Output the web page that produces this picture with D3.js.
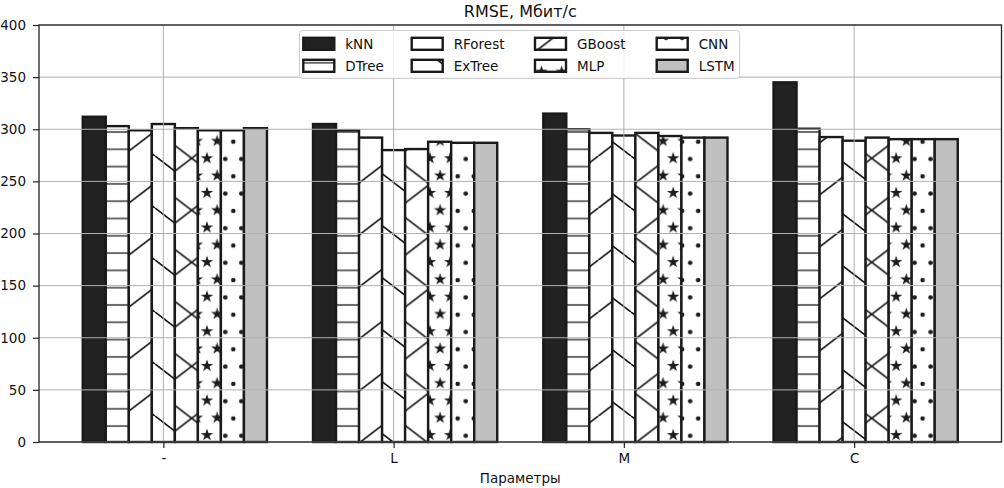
<!DOCTYPE html>
<html>
<head>
<meta charset="utf-8">
<script src="https://cdn.jsdelivr.net/npm/d3@7"></script>
<style>
    body { margin: 0; background: #fff; }
    svg text { font-family: "DejaVu Sans", sans-serif; fill: #111; }
</style>
</head>
<body>
<div id="graph"></div>
<script>
// categories on the x axis and the models in the legend
const CATEGORIES = ['-', 'L', 'M', 'C'];
const MODELS = ['kNN', 'DTree', 'RForest', 'ExTree', 'GBoost', 'MLP', 'CNN', 'LSTM'];

// RMSE values, one array per model, in CATEGORIES order
const KNN     = [312, 305, 315, 345];
const DTREE   = [303, 299, 300, 300.5];
const RFOREST = [299, 292, 296.5, 292.5];
const EXTREE  = [305, 280, 294, 289];
const GBOOST  = [301, 281, 296.5, 292];
const MLP     = [299, 288, 293.5, 290.5];
const CNN     = [299, 287, 292, 290.5];
const LSTM    = [301, 287, 292, 290.5];

const Y_TICKS = [0, 50, 100, 150, 200, 250, 300, 350, 400];

window.onload = (function(){

    function __init__(){
        /**
         * Builds the whole chart.
         */
        WIDTH = 1004;
        HEIGHT = 488;
        plot = {left: 39, right: 1001.5, top: 25, bottom: 442};
        series = [KNN, DTREE, RFOREST, EXTREE, GBOOST, MLP, CNN, LSTM];
        looks = [
            {fill: '#222222', hatch: null},
            {fill: '#ffffff', hatch: 'hlines'},
            {fill: '#ffffff', hatch: 'fwd'},
            {fill: '#ffffff', hatch: 'back'},
            {fill: '#ffffff', hatch: 'cross'},
            {fill: '#ffffff', hatch: 'stars'},
            {fill: '#ffffff', hatch: 'dots'},
            {fill: '#c0c0c0', hatch: null}
        ];
        svg = d3.select('#graph').append('svg')
            .attr('width', WIDTH)
            .attr('height', HEIGHT);
        x = d3.scaleLinear().domain([-0.54, 3.64]).range([plot.left, plot.right]);
        y = d3.scaleLinear().domain([0, 400]).range([plot.bottom, plot.top]);

        makePatterns();
        drawBars();
        drawGrid();
        drawAxes();
        drawLegend();
        drawTexts();
    }


    function makePatterns(){
        /**
         * Hatch patterns, anchored to the page like matplotlib hatches.
         */
        var defs = svg.append('defs');
        var ink = '#151515';
        var lw = 1.7;

        var p = defs.append('pattern').attr('id', 'hlines')
            .attr('patternUnits', 'userSpaceOnUse')
            .attr('x', 0).attr('y', 10.9 - 8.65).attr('width', 10).attr('height', 17.3);
        p.append('line').attr('x1', 0).attr('x2', 10).attr('y1', 8.65).attr('y2', 8.65)
            .attr('stroke', '#6a6a6a').attr('stroke-width', 2);

        var pw = 68, ph = 52;
        var fwd = defs.append('pattern').attr('id', 'fwd')
            .attr('patternUnits', 'userSpaceOnUse')
            .attr('x', 54.4).attr('y', 0).attr('width', pw).attr('height', ph);
        [0, 1, 2].forEach(function(k){
            fwd.append('line').attr('x1', k * pw).attr('y1', 0).attr('x2', (k - 1) * pw).attr('y2', ph)
                .attr('stroke', ink).attr('stroke-width', lw);
        });

        var back = defs.append('pattern').attr('id', 'back')
            .attr('patternUnits', 'userSpaceOnUse')
            .attr('x', 19).attr('y', 0).attr('width', pw).attr('height', ph);
        [-1, 0, 1].forEach(function(k){
            back.append('line').attr('x1', k * pw).attr('y1', 0).attr('x2', (k + 1) * pw).attr('y2', ph)
                .attr('stroke', ink).attr('stroke-width', lw);
        });

        var cross = defs.append('pattern').attr('id', 'cross')
            .attr('patternUnits', 'userSpaceOnUse')
            .attr('x', 55.7).attr('y', 2.3).attr('width', pw).attr('height', ph);
        [-1, 0, 1].forEach(function(k){
            cross.append('line').attr('x1', k * pw).attr('y1', 0).attr('x2', (k + 1) * pw).attr('y2', ph)
                .attr('stroke', ink).attr('stroke-width', lw);
        });
        [0, 1, 2].forEach(function(k){
            cross.append('line').attr('x1', k * pw).attr('y1', 0).attr('x2', (k - 1) * pw).attr('y2', ph)
                .attr('stroke', ink).attr('stroke-width', lw);
        });

        latticePattern(defs, 'stars', 20.27, 34.6, 4.3, 19.9, d3.symbol(d3.symbolStar, 48)());
        latticePattern(defs, 'dots', 16.03, 34.6, 8.88, 3.3, d3.symbol(d3.symbolCircle, 17)());
    }


    function latticePattern(defs, id, w, h, ox, oy, shape){
        /**
         * Staggered grid of small shapes (corners + centre of each tile).
         */
        var pat = defs.append('pattern').attr('id', id)
            .attr('patternUnits', 'userSpaceOnUse')
            .attr('x', ox).attr('y', oy).attr('width', w).attr('height', h);
        [[0, 0], [w, 0], [0, h], [w, h], [w / 2, h / 2]].forEach(function(c){
            pat.append('path').attr('d', shape)
                .attr('transform', 'translate(' + c[0] + ',' + c[1] + ')')
                .attr('fill', '#1c1c1c');
        });
    }


    function drawBars(){
        /**
         * One rect per model and category, hatch laid over the face colour.
         */
        var bw = x(0.1) - x(0);
        var g = svg.append('g').attr('class', 'bars');
        series.forEach(function(values, i){
            values.forEach(function(v, j){
                var left = x(j + (i - 3) * 0.1 - 0.05);
                var top = y(v);
                var h = y(0) - top;
                g.append('rect').attr('x', left).attr('y', top).attr('width', bw).attr('height', h)
                    .attr('fill', looks[i].fill);
                if (looks[i].hatch){
                    g.append('rect').attr('x', left).attr('y', top).attr('width', bw).attr('height', h)
                        .attr('fill', 'url(#' + looks[i].hatch + ')');
                }
                g.append('rect').attr('x', left).attr('y', top).attr('width', bw).attr('height', h)
                    .attr('fill', 'none').attr('stroke', '#1a1a1a').attr('stroke-width', 2.4);
            });
        });
    }


    function drawGrid(){
        /**
         * Light grid, drawn over the bars as in the picture.
         */
        var g = svg.append('g').attr('class', 'grid');
        g.selectAll('.hg').data(Y_TICKS).enter().append('line')
            .attr('x1', plot.left).attr('x2', plot.right)
            .attr('y1', function(d){ return y(d); }).attr('y2', function(d){ return y(d); })
            .attr('stroke', '#b0b0b0').attr('stroke-width', 1);
        g.selectAll('.vg').data(CATEGORIES).enter().append('line')
            .attr('x1', function(d, i){ return x(i); }).attr('x2', function(d, i){ return x(i); })
            .attr('y1', plot.top).attr('y2', plot.bottom)
            .attr('stroke', '#b0b0b0').attr('stroke-width', 1);
    }


    function drawAxes(){
        /**
         * Ticks and labels from d3 axes, plus the four spines.
         */
        var yAxis = d3.axisLeft(y).tickValues(Y_TICKS).tickSize(6).tickPadding(7);
        var ya = svg.append('g').attr('transform', 'translate(' + plot.left + ',0)').call(yAxis);
        var xAxis = d3.axisBottom(x).tickValues(d3.range(CATEGORIES.length))
            .tickFormat(function(d){ return CATEGORIES[d]; })
            .tickSize(6).tickPadding(5);
        var xa = svg.append('g').attr('transform', 'translate(0,' + plot.bottom + ')').call(xAxis);
        [ya, xa].forEach(function(a){
            a.select('.domain').remove();
            a.selectAll('line').attr('stroke', '#222').attr('stroke-width', 1.2);
            a.selectAll('text').attr('font-size', 13.5).attr('fill', '#111')
                .style('font-family', '"DejaVu Sans", sans-serif');
        });
        svg.append('rect')
            .attr('x', plot.left).attr('y', plot.top)
            .attr('width', plot.right - plot.left).attr('height', plot.bottom - plot.top)
            .attr('fill', 'none').attr('stroke', '#222').attr('stroke-width', 1.3);
    }


    function drawLegend(){
        /**
         * Four-column legend with the same hatches.
         */
        var lg = svg.append('g').attr('class', 'legend');
        lg.append('rect').attr('x', 299.5).attr('y', 30.5).attr('width', 440).attr('height', 48)
            .attr('rx', 3).attr('fill', '#fff').attr('fill-opacity', 0.85)
            .attr('stroke', '#cccccc').attr('stroke-width', 1);
        var cols = [303.3, 411.7, 535, 656.7];
        var rows = [43.8, 65.8];
        MODELS.forEach(function(name, i){
            var cx = cols[Math.floor(i / 2)];
            var cy = rows[i % 2];
            lg.append('rect').attr('x', cx).attr('y', cy - 6).attr('width', 31).attr('height', 12)
                .attr('fill', looks[i].fill);
            if (looks[i].hatch){
                lg.append('rect').attr('x', cx).attr('y', cy - 6).attr('width', 31).attr('height', 12)
                    .attr('fill', 'url(#' + looks[i].hatch + ')');
            }
            lg.append('rect').attr('x', cx).attr('y', cy - 6).attr('width', 31).attr('height', 12)
                .attr('fill', 'none').attr('stroke', '#1a1a1a').attr('stroke-width', 2.4);
            lg.append('text').attr('x', cx + 42).attr('y', cy + 5)
                .attr('font-size', 13.5).text(name);
        });
    }


    function drawTexts(){
        /**
         * Title and x label.
         */
        svg.append('text').attr('x', (plot.left + plot.right) / 2).attr('y', 17)
            .attr('text-anchor', 'middle').attr('font-size', 16).text('RMSE, Мбит/с');
        svg.append('text').attr('x', (plot.left + plot.right) / 2).attr('y', 483)
            .attr('text-anchor', 'middle').attr('font-size', 13.5).text('Параметры');
    }


    __init__();

});
</script>
</body>
</html>
